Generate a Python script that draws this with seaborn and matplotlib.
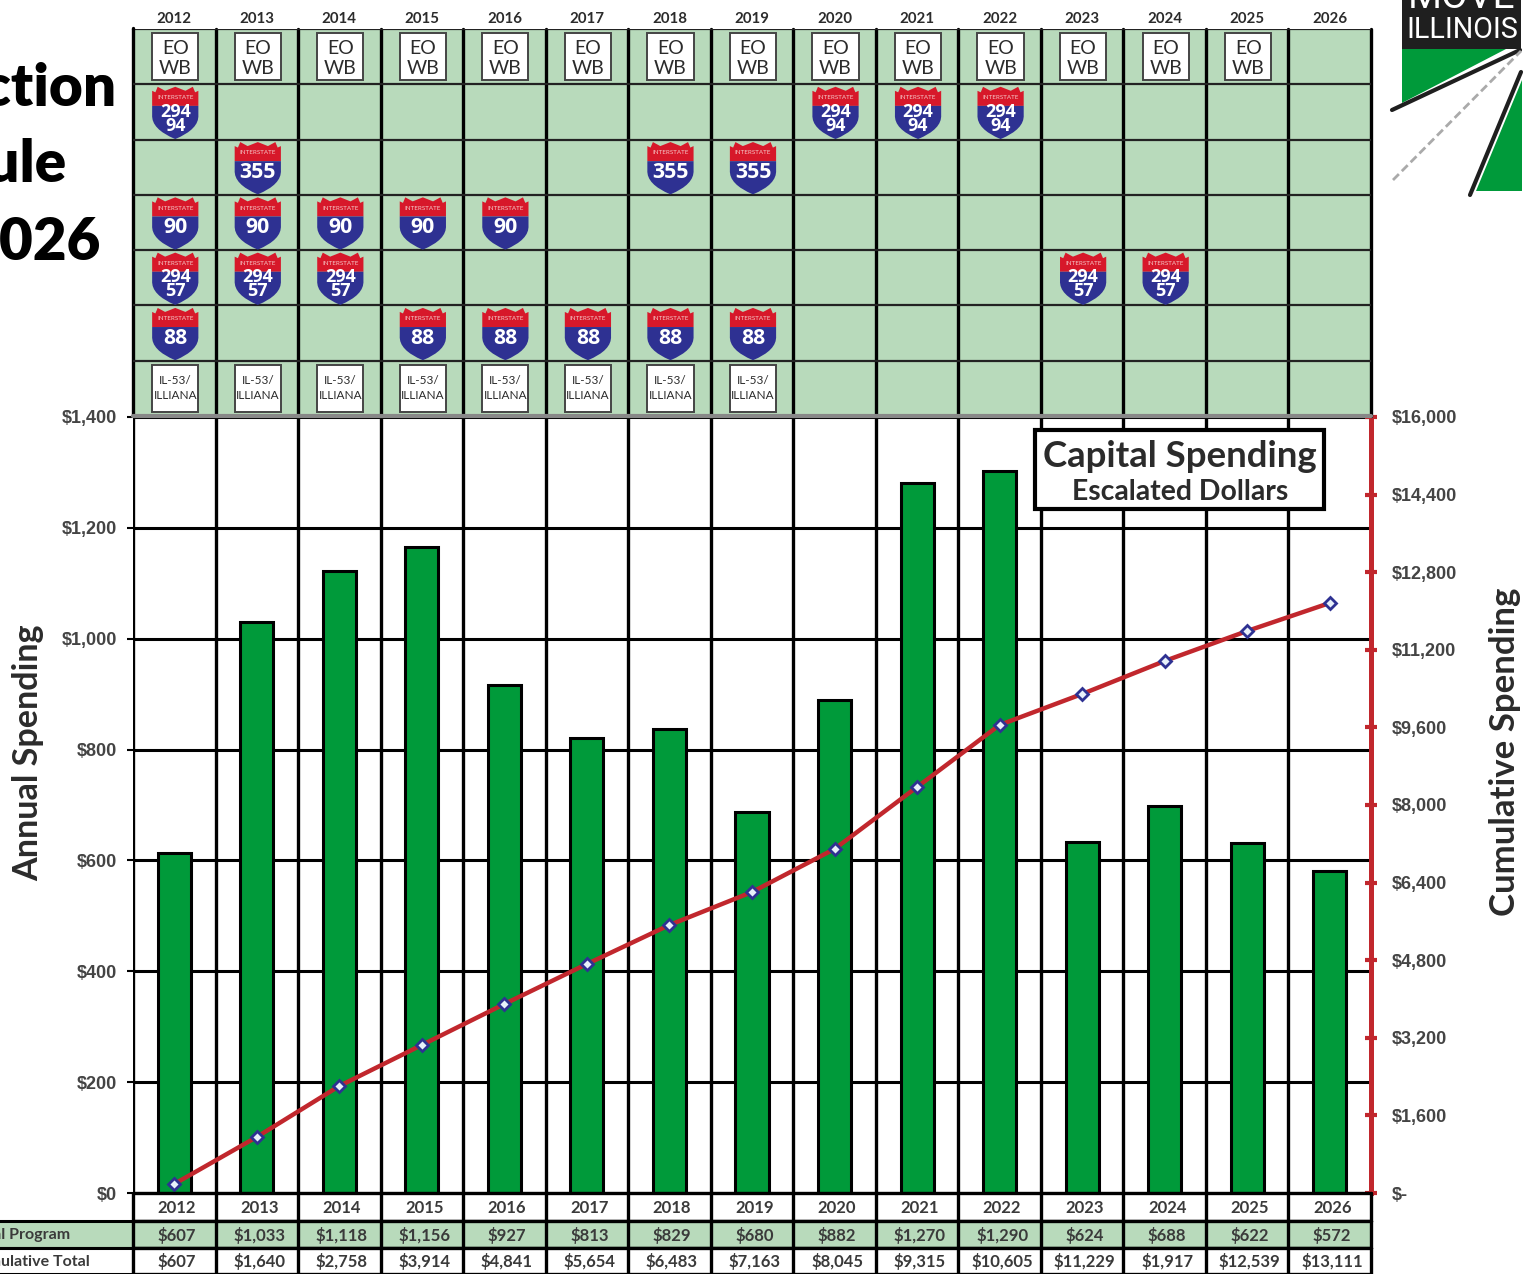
import numpy as np
import pandas as pd
import matplotlib
matplotlib.use("Agg")
import matplotlib.pyplot as plt
import seaborn as sns
from matplotlib.patches import PathPatch, Rectangle, Polygon
from matplotlib.path import Path

years = list(range(2012, 2027))
annual_bars = [613, 1030, 1122, 1165, 916, 821, 837, 687, 889, 1281, 1302, 633, 698, 631, 581]
cumulative_line = [186, 1155, 2206, 3052, 3897, 4722, 5526, 6206, 7093, 8371, 9650, 10289, 10969, 11588, 12165]
annual_labels = ["$607", "$1,033", "$1,118", "$1,156", "$927", "$813", "$829", "$680", "$882",
                 "$1,270", "$1,290", "$624", "$688", "$622", "$572"]
cumulative_labels = ["$607", "$1,640", "$2,758", "$3,914", "$4,841", "$5,654", "$6,483", "$7,163", "$8,045",
                     "$9,315", "$10,605", "$11,229", "$1,917", "$12,539", "$13,111"]
left_ticks = [0, 200, 400, 600, 800, 1000, 1200, 1400]
right_ticks = [0, 1600, 3200, 4800, 6400, 8000, 9600, 11200, 12800, 14400, 16000]

# schedule rows, top to bottom
schedule = [
    ("EO\nWB", list(range(2012, 2026))),
    ("294\n94", [2012, 2020, 2021, 2022]),
    ("355", [2013, 2018, 2019]),
    ("90", [2012, 2013, 2014, 2015, 2016]),
    ("294\n57", [2012, 2013, 2014, 2023, 2024]),
    ("88", [2012, 2015, 2016, 2017, 2018, 2019]),
    ("IL-53/\nILLIANA", list(range(2012, 2020))),
]

W, H = 1534, 1274
GREEN = "#009a3a"
PALE = "#b8dabb"
RED = "#c1272d"
BLUE = "#2e3192"
TEXT = "#2b2b2b"

sns.set_theme(style="white")
plt.rcParams["font.family"] = ["Lato", "DejaVu Sans"]


def box(x0, y0, x1, y1):
    return [x0 / W, 1 - y1 / H, (x1 - x0) / W, (y1 - y0) / H]


fig = plt.figure(figsize=(W / 100, H / 100), dpi=100, facecolor="white")

# main chart
ax = fig.add_axes(box(133, 417, 1371, 1193))
df = pd.DataFrame({"year": years, "annual": annual_bars, "cumulative": cumulative_line})
sns.barplot(data=df, x="year", y="annual", color=GREEN, saturation=1, width=0.4,
            edgecolor="black", linewidth=2.2, ax=ax, zorder=3)
ax.set_xlim(-0.5, 14.5)
ax.set_ylim(0, 1400)
ax.set_xlabel("")
ax.set_ylabel("Annual Spending", fontsize=24.6, fontweight="bold", color=TEXT)
ax.yaxis.set_label_coords(-0.072, 0.568)
ax.set_yticks(left_ticks)
ax.set_yticklabels(["$" + format(t, ",") for t in left_ticks], fontsize=13, fontweight="bold",
                   color="#444444", family=["Liberation Sans"])
ax.tick_params(axis="y", length=4, width=1.5, color="black", pad=7.5, left=True)
ax.set_xticks([])
for t in left_ticks:
    ax.axhline(t, color="black", lw=2.2, zorder=1)
for i in range(16):
    ax.axvline(i - 0.5, color="black", lw=2.4, zorder=1)
for s in ax.spines.values():
    s.set_visible(False)

# cumulative line on its own scale
ax2 = ax.twinx()
sns.lineplot(data=df, x=df.index, y="cumulative", color=RED, lw=3.2, ax=ax2, zorder=5,
             marker="D", markersize=6.5, markerfacecolor="#e8f1fa", markeredgecolor=BLUE,
             markeredgewidth=2)
ax2.set_ylim(0, 16000)
ax2.set_xlim(-0.5, 14.5)
ax2.set_yticks(right_ticks)
ax2.set_yticklabels(["$-" if t == 0 else "$" + format(t, ",") for t in right_ticks], fontsize=13,
                    fontweight="bold", color="#444444", family=["Liberation Sans"])
ax2.tick_params(axis="y", direction="inout", length=9, width=3, color=RED, pad=10.5, right=True)
ax2.set_ylabel("Cumulative Spending", fontsize=25, fontweight="bold", color=TEXT, rotation=90)
ax2.yaxis.set_label_coords(1.0952, 0.569)
for s in ["top", "left", "bottom"]:
    ax2.spines[s].set_visible(False)
ax2.spines["right"].set_color(RED)
ax2.spines["right"].set_linewidth(3.6)

# title box over the grid
ax2.add_patch(Rectangle((0.7285, 0.8814), 0.2335, 0.1018, transform=ax2.transAxes, fc="white",
                        ec="black", lw=3, zorder=7))
ax2.text(0.8457, 0.9497, "Capital Spending", transform=ax2.transAxes, ha="center", va="center",
         fontsize=26.4, color=TEXT, fontweight="bold", zorder=8)
ax2.text(0.8457, 0.9035, "Escalated Dollars", transform=ax2.transAxes, ha="center", va="center",
         fontsize=20.4, color=TEXT, fontweight="bold", zorder=8)

# schedule grid above the chart
top = fig.add_axes(box(133, 29, 1371, 416))
top.set_xlim(-0.5, 14.5)
top.set_ylim(len(schedule), 0)
top.set_facecolor(PALE)
top.set_xticks(range(15))
top.set_xticklabels(years, fontsize=10.8, fontweight="bold", color=TEXT)
top.xaxis.tick_top()
top.tick_params(axis="x", length=0, pad=2.3)
top.set_yticks([])
for s in top.spines.values():
    s.set_visible(False)
for i in range(16):
    top.axvline(i - 0.5, color="black", lw=2.4, zorder=1, clip_on=False)
top.axvline(-0.5, ymin=1, ymax=1.003, color="black", lw=2.4, clip_on=False)
for r in range(len(schedule)):
    top.axhline(r, color="#222222", lw=1.6, zorder=1)
top.axhline(len(schedule), color="#888888", lw=3, zorder=1, clip_on=False)

# interstate shield outline in unit square around the cell centre
red_pts = [(-.5, -.42), (-.43, -.39), (-.38, -.5), (-.22, -.42), (0, -.5), (.22, -.42), (.38, -.5),
           (.43, -.39), (.5, -.42), (.5, -.12), (-.5, -.12), (-.5, -.42)]
blue_pts = [(-.5, -.12), (.5, -.12), (.5, .06), (.52, .34), (0, .54), (-.52, .34), (-.5, .06), (-.5, -.12)]
blue_codes = [Path.MOVETO, Path.LINETO, Path.LINETO, Path.CURVE3, Path.CURVE3, Path.CURVE3, Path.CURVE3,
              Path.CLOSEPOLY]


def draw_shield(axis, cx, cy, label):
    sx = 0.56
    sy = 0.91
    red = [(cx + a * sx, cy + b * sy) for a, b in red_pts]
    blue = [(cx + a * sx, cy + b * sy) for a, b in blue_pts]
    axis.add_patch(Polygon(red, closed=True, fc="#d7182a", ec="none", zorder=3))
    axis.add_patch(PathPatch(Path(blue, blue_codes), fc=BLUE, ec="none", zorder=3))
    axis.text(cx, cy - 0.26, "INTERSTATE", color="#f5c6c6", fontsize=4.5, ha="center", va="center", zorder=4)
    two = "\n" in label
    axis.text(cx, cy + (0.12 if two else 0.09), label, color="white", fontsize=13 if two else 15.3,
              fontweight="bold", ha="center", va="center", zorder=4, linespacing=0.72,
              family=["Open Sans"])


for r, (label, cols) in enumerate(schedule):
    for y in cols:
        cx = y - 2012 + 0.012
        cy = r + 0.5
        if label[0] in "EI":
            top.add_patch(Rectangle((cx - 0.28, cy - 0.42), 0.56, 0.85, fc="white", ec="#444444",
                                    lw=1.4, zorder=3))
            if label[0] == "E":
                top.text(cx, cy + 0.03, label, ha="center", va="center", color=TEXT, zorder=4,
                         fontsize=14, linespacing=1.25)
            else:
                top.text(cx, cy - 0.01, label, ha="center", va="center", color=TEXT, zorder=4,
                         fontsize=8.5, linespacing=1.4)
        else:
            draw_shield(top, cx, cy, label)

# table below the chart
rows = [("", [str(y) for y in years], "white", 1193, 1221, 0),
        ("Annual Program", annual_labels, PALE, 1221, 1248, 70),
        ("Cumulative Total", cumulative_labels, "white", 1248, 1274, 90)]
for name, labels, fill, y0, y1, name_right in rows:
    tab = fig.add_axes(box(133, y0, 1371, y1))
    tab.set_xlim(-0.5, 14.5)
    tab.set_ylim(0, 1)
    tab.set_facecolor(fill)
    tab.set_xticks([])
    tab.set_yticks([])
    for s in tab.spines.values():
        s.set_visible(False)
    for i in range(16):
        tab.axvline(i - 0.5, color="black", lw=2.4, clip_on=False)
    tab.axhline(1, color="black", lw=2.4, clip_on=False)
    tab.axhline(0, color="black", lw=2.4, clip_on=False)
    for i, s in enumerate(labels):
        tab.text(i + 0.03, 0.47, s, ha="center", va="center", fontsize=12, fontweight="bold", color="#3a3a3a")
    if name:
        fig.patches.append(Rectangle((-10 / W, 1 - y1 / H), 143 / W, (y1 - y0) / H, transform=fig.transFigure,
                                     fc=fill, ec="black", lw=2.2, figure=fig, zorder=-1))
        fig.text(name_right / W, 1 - ((y0 + y1) / 2 + 1) / H, name, ha="right", va="center", fontsize=11.5,
                 fontweight="bold", color="#3a3a3a")

# slide title and logo cut by the crop
for txt, right, yc in [("Construction", 116, 88), ("Schedule", 66, 165), ("2012-2026", 101, 242)]:
    fig.text(right / W, 1 - yc / H, txt, ha="right", va="center", fontsize=42, fontweight="heavy", color="black")

logo = fig.add_axes([0, 0, 1, 1], facecolor="none", zorder=-5)
logo.set_xlim(0, W)
logo.set_ylim(H, 0)
logo.axis("off")
logo.add_patch(Rectangle((1402, 0), 119, 49, fc="#1f1f1f", ec="none"))
logo.add_patch(Polygon([(1402, 49), (1506, 49), (1402, 103)], fc=GREEN, ec="none"))
logo.add_patch(Polygon([(1476, 191), (1522, 80), (1522, 191)], fc=GREEN, ec="none"))
logo.plot([1392, 1520], [110, 50], color="#1f1f1f", lw=3)
logo.plot([1393, 1521], [180, 51], color="#aaaaaa", lw=2, ls=(0, (3, 1.5)))
logo.plot([1470, 1521], [195, 72], color="#1f1f1f", lw=3)
logo.text(1462, 30, "ILLINOIS", color="white", ha="center", va="center", fontsize=20.7, family=["Roboto"])
logo.text(1462, 8, "MOVE", color="white", ha="center", va="baseline", fontsize=28, family=["Roboto"])

fig.savefig("out.png", dpi=100)
